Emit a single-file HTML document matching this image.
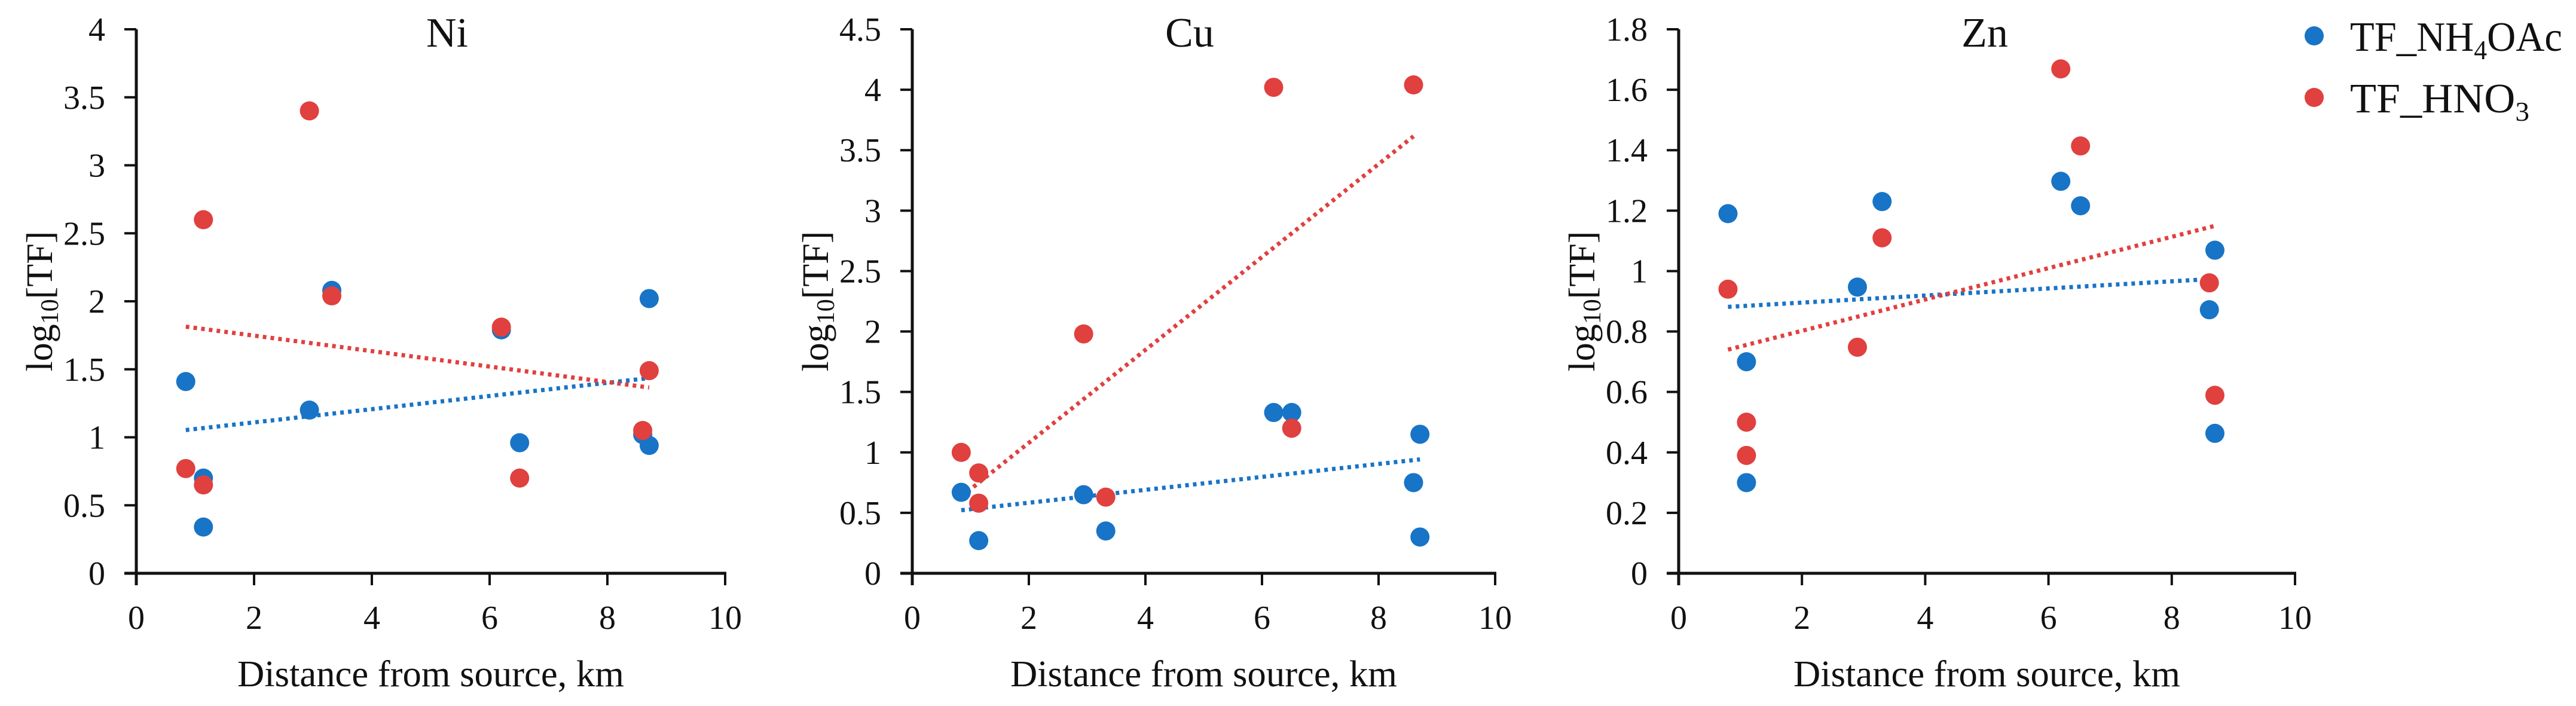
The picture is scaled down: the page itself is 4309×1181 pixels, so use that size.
<!DOCTYPE html>
<html><head><meta charset="utf-8">
<style>
html,body{margin:0;padding:0;background:#fff;}
svg{display:block;}
text{font-family:"Liberation Serif",serif;fill:#111;}
</style></head>
<body>
<svg id="chart" width="4309" height="1181" viewBox="0 0 4309 1181" xmlns="http://www.w3.org/2000/svg">
  <g>
    <circle cx="3871" cy="60" r="16" fill="#1874C6"/>
    <text x="3931" y="85" font-size="70" textLength="355" lengthAdjust="spacingAndGlyphs">TF_NH<tspan font-size="46" dy="14">4</tspan><tspan dy="-14">OAc</tspan></text>
    <circle cx="3871" cy="163" r="16" fill="#E0403E"/>
    <text x="3931" y="188" font-size="70" textLength="300" lengthAdjust="spacingAndGlyphs">TF_HNO<tspan font-size="46" dy="14">3</tspan></text>
  </g>
</svg>
<script>
// ---- Ni data ----
const niBlueX = [0.84,1.14,1.14,2.94,3.32,6.20,6.51,8.60,8.71,8.71];
const niBlueY = [1.41,0.70,0.34,1.20,2.08,1.79,0.96,1.02,2.02,0.94];
const niRedX  = [0.84,1.14,1.14,2.94,3.32,6.20,6.51,8.60,8.71];
const niRedY  = [0.77,2.60,0.65,3.40,2.04,1.81,0.70,1.05,1.49];
const niYTicks = ["0","0.5","1","1.5","2","2.5","3","3.5","4"];
// ---- Cu data ----
const cuBlueX = [0.84,1.14,2.94,3.32,6.20,6.51,8.60,8.71,8.71];
const cuBlueY = [0.67,0.27,0.65,0.35,1.33,1.33,0.75,1.15,0.30];
const cuRedX  = [0.84,1.14,1.14,2.94,3.32,6.20,6.51,8.60];
const cuRedY  = [1.00,0.83,0.58,1.98,0.63,4.02,1.20,4.04];
const cuYTicks = ["0","0.5","1","1.5","2","2.5","3","3.5","4","4.5"];
// ---- Zn data ----
const znBlueX = [0.80,1.10,1.10,2.90,3.30,6.20,6.52,8.61,8.70,8.70];
const znBlueY = [1.19,0.70,0.30,0.947,1.23,1.297,1.216,0.872,1.069,0.463];
const znRedX  = [0.80,1.10,1.10,2.90,3.30,6.20,6.52,8.61,8.70];
const znRedY  = [0.94,0.50,0.39,0.748,1.11,1.669,1.414,0.961,0.589];
const znYTicks = ["0","0.2","0.4","0.6","0.8","1","1.2","1.4","1.6","1.8"];
// shared x ticks
const xTicks = ["0","2","4","6","8","10"];

const NS = "http://www.w3.org/2000/svg";
const svg = document.getElementById('chart');
const BLUE = "#1874C6", RED = "#E0403E";

function mk(tag, attrs, parent){
  const e = document.createElementNS(NS, tag);
  for (const k in attrs) e.setAttribute(k, attrs[k]);
  parent.appendChild(e);
  return e;
}
function regress(xs, ys){
  const n = xs.length;
  let sx=0, sy=0, sxx=0, sxy=0;
  for (let i=0;i<n;i++){ sx+=xs[i]; sy+=ys[i]; sxx+=xs[i]*xs[i]; sxy+=xs[i]*ys[i]; }
  const b = (n*sxy - sx*sy)/(n*sxx - sx*sx);
  const a = (sy - b*sx)/n;
  return [a,b];
}

function panel(cfg){
  const g = mk('g', {}, svg);
  
  
  const x0 = cfg.x0, x1 = cfg.x1, yB = 959, yT = 49;
  const xMax = 10, yMax = parseFloat(cfg.yTicks[cfg.yTicks.length-1]);
  const sx = v => x0 + (v/xMax)*(x1-x0);
  const sy = v => yB - (v/yMax)*(yB-yT);

  const t = mk('text', {x: cfg.titleX, y: 78, 'font-size': 70, 'text-anchor':'middle'}, g);
  
  
  t.textContent = cfg.title;

  const ya = mk('line', {x1:x0, y1:yT, x2:x0, y2:yB+20, stroke:'#111', 'stroke-width':5}, g);
  
  
  cfg.yTicks.forEach(lbl => {
    const v = parseFloat(lbl), y = sy(v);
    const tk = mk('line', {x1:x0-20, y1:y, x2:x0, y2:y, stroke:'#111', 'stroke-width':4}, g);
    
    
    const tl = mk('text', {x:x0-52, y:y+19, 'font-size':56, 'text-anchor':'end'}, g);
    
    
    tl.textContent = lbl;
  });
  const xa = mk('line', {x1:x0-20, y1:yB, x2:x1+2, y2:yB, stroke:'#111', 'stroke-width':5}, g);
  
  
  xTicks.forEach(lbl => {
    const x = sx(parseFloat(lbl));
    const tk = mk('line', {x1:x, y1:yB, x2:x, y2:yB+20, stroke:'#111', 'stroke-width':4}, g);
    
    
    const tl = mk('text', {x:x, y:1052, 'font-size':56, 'text-anchor':'middle'}, g);
    
    
    tl.textContent = lbl;
  });
  const xt = mk('text', {x:(x0+x1)/2, y:1148, 'font-size':62, 'text-anchor':'middle', textLength:647, lengthAdjust:'spacingAndGlyphs'}, g);
  
  
  xt.textContent = 'Distance from source, km';
  const yx = x0 - 163, yc = 504;
  const yt = mk('text', {x:yx, y:yc, 'font-size':62, 'text-anchor':'middle', transform:`rotate(-90 ${yx} ${yc}) translate(0 22)`}, g);
  
  
  yt.innerHTML = 'log<tspan font-size="42" dy="10">10</tspan><tspan dy="-10">[TF]</tspan>';

  [[cfg.bx, cfg.by, BLUE, 'nh4oac'], [cfg.rx, cfg.ry, RED, 'hno3']].forEach(([xs, ys, col, sname]) => {
    const [a,b] = regress(xs, ys);
    const xmin = Math.min(...xs), xmax = Math.max(...xs);
    const tl = mk('line', {x1:sx(xmin), y1:sy(a+b*xmin), x2:sx(xmax), y2:sy(a+b*xmax), stroke:col, 'stroke-width':7, 'stroke-dasharray':'6 7'}, g);
    
    
  });
  [[cfg.bx, cfg.by, BLUE, 'nh4oac'], [cfg.rx, cfg.ry, RED, 'hno3']].forEach(([xs, ys, col, sname]) => {
    xs.forEach((xv, i) => {
      const c = mk('circle', {cx:sx(xv), cy:sy(ys[i]), r:16, fill:col}, g);
      
      
    });
  });
}

panel({name:'ni', title:'Ni', titleX:748, x0:228, x1:1213, yTicks:niYTicks, bx:niBlueX, by:niBlueY, rx:niRedX, ry:niRedY});
panel({name:'cu', title:'Cu', titleX:1990, x0:1526, x1:2501, yTicks:cuYTicks, bx:cuBlueX, by:cuBlueY, rx:cuRedX, ry:cuRedY});
panel({name:'zn', title:'Zn', titleX:3320, x0:2808, x1:3839, yTicks:znYTicks, bx:znBlueX, by:znBlueY, rx:znRedX, ry:znRedY});
</script>
</body></html>
